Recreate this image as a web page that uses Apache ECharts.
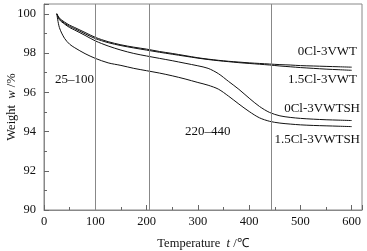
<!DOCTYPE html>
<html>
<head>
<meta charset="utf-8">
<script src="https://cdn.jsdelivr.net/npm/echarts@6/dist/echarts.min.js"></script>
<style>
  html, body { margin: 0; padding: 0; background: #fff; }
  #chart { width: 367px; height: 251px; }
</style>
</head>
<body>
<div id="chart"></div>
<script>
var temps = [25, 30, 40, 50, 60, 80, 100, 125, 150, 175, 200, 225, 250, 275, 300, 320, 340, 360, 380, 400, 420, 440, 460, 480, 500, 525, 550, 575, 600];
var seriesNames = ['0Cl-3VWT', '1.5Cl-3VWT', '0Cl-3VWTSH', '1.5Cl-3VWTSH'];
var w0VWT = [100, 99.78, 99.58, 99.42, 99.3, 99.05, 98.8, 98.58, 98.42, 98.3, 98.2, 98.08, 97.98, 97.87, 97.76, 97.69, 97.63, 97.58, 97.54, 97.5, 97.47, 97.44, 97.41, 97.39, 97.36, 97.34, 97.32, 97.3, 97.28];
var w15VWT = [100, 99.74, 99.52, 99.36, 99.24, 98.98, 98.74, 98.53, 98.38, 98.26, 98.15, 98.04, 97.94, 97.84, 97.74, 97.67, 97.61, 97.56, 97.51, 97.47, 97.43, 97.39, 97.34, 97.3, 97.26, 97.22, 97.18, 97.15, 97.12];
var w0VWTSH = [100, 99.7, 99.48, 99.3, 99.17, 98.9, 98.62, 98.36, 98.15, 97.98, 97.85, 97.73, 97.61, 97.48, 97.35, 97.22, 96.95, 96.55, 96.15, 95.7, 95.28, 94.97, 94.8, 94.72, 94.67, 94.63, 94.6, 94.58, 94.56];
var w15VWTSH = [100, 99.3, 98.75, 98.45, 98.27, 97.97, 97.73, 97.5, 97.37, 97.22, 97.1, 96.98, 96.84, 96.68, 96.5, 96.36, 96.16, 95.8, 95.4, 95.02, 94.7, 94.52, 94.43, 94.38, 94.34, 94.31, 94.29, 94.27, 94.25];
var stageLines = [100, 205, 443];
var stageLabels = ['25\u2013100', '220\u2013440'];

var serif = 'Liberation Serif';
var chart = echarts.init(document.getElementById('chart'));

function pairs(ys) {
    return temps.map(function(t, i) { return [t, ys[i]]; });
}

var allValues = [w0VWT, w15VWT, w0VWTSH, w15VWTSH];
var series = allValues.map(function(ys, k) {
    var s = {
        name: seriesNames[k],
        type: 'line',
        data: pairs(ys),
        showSymbol: false,
        smooth: 0.3,
        lineStyle: { color: '#111', width: 1 },
        silent: true
    };
    if (k === 0) {
        s.markLine = {
            silent: true,
            symbol: 'none',
            label: { show: false },
            lineStyle: { color: '#888', width: 1, type: 'solid' },
            data: stageLines.map(function(x) { return { xAxis: x }; })
        };
    }
    return s;
});

function note(text, x, y, align) {
    return {
        type: 'text', x: x, y: y, silent: true,
        style: { text: text, fontFamily: serif, fontSize: 13, fill: '#111', align: align, verticalAlign: 'middle' }
    };
}

chart.setOption({
    animation: false,
    grid: { left: 44, right: 5, top: 4, bottom: 41, outerBoundsMode: 'none', containLabel: false, show: true, borderColor: '#888', borderWidth: 1 },
    xAxis: {
        type: 'value',
        min: 0, max: 620, interval: 100,
        name: 'Temperature  {i|t} /\u2103',
        nameLocation: 'middle',
        nameGap: 27,
        nameTextStyle: { fontFamily: serif, fontSize: 12.5, color: '#111', rich: { i: { fontStyle: 'italic', fontFamily: serif, fontSize: 12.5 } } },
        axisLine: { lineStyle: { color: '#888' } },
        axisTick: { inside: true, length: 5, lineStyle: { color: '#666' } },
        minorTick: { show: true, splitNumber: 2, length: 3, lineStyle: { color: '#666' } },
        splitLine: { show: false },
        axisLabel: {
            fontFamily: serif, fontSize: 12.5, color: '#111', margin: 5,
            formatter: function(v) { return v % 100 === 0 ? v : ''; }
        }
    },
    yAxis: {
        type: 'value',
        min: 90, max: 100.5, interval: 2,
        name: 'Weight  {i|w} /%',
        nameLocation: 'middle',
        nameGap: 26,
        nameMoveOverlap: false,
        nameTextStyle: { fontFamily: serif, fontSize: 12.5, color: '#111', rich: { i: { fontStyle: 'italic', fontFamily: serif, fontSize: 12.5 } } },
        axisLine: { show: true, lineStyle: { color: '#888' } },
        axisTick: { show: true, inside: true, length: 5, lineStyle: { color: '#666' } },
        minorTick: { show: true, splitNumber: 2, length: 3, lineStyle: { color: '#666' } },
        splitLine: { show: false },
        axisLabel: {
            fontFamily: serif, fontSize: 12.5, color: '#111', margin: 8,
            formatter: function(v) { return v % 2 === 0 ? v : ''; }
        }
    },
    graphic: [
        note(seriesNames[0], 357, 52, 'right'),
        note(seriesNames[1], 357, 80, 'right'),
        note(seriesNames[2], 360, 109, 'right'),
        note(seriesNames[3], 360, 140, 'right'),
        note(stageLabels[0], 55, 80, 'left'),
        note(stageLabels[1], 185, 132, 'left')
    ],
    series: series
});
</script>
</body>
</html>
